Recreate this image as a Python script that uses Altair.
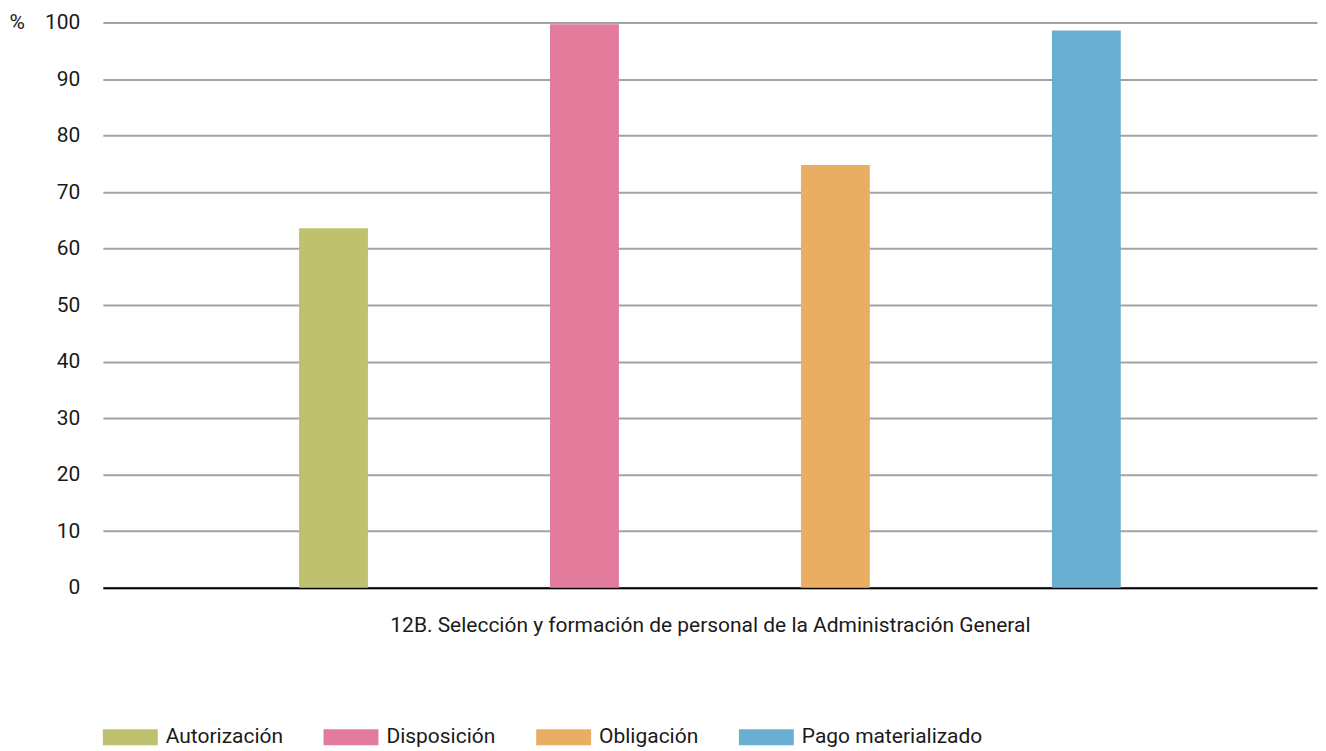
import altair as alt
import pandas as pd

series = ["Autorización", "Disposición", "Obligación", "Pago materializado"]
values = [63.6, 99.7, 74.8, 98.6]
colors = ["#bec26e", "#e27b9c", "#e9ae63", "#6aaed2"]
category = "12B. Selección y formación de personal de la Administración General"
y_ticks = [0, 10, 20, 30, 40, 50, 60, 70, 80, 90, 100]

df = pd.DataFrame({"Serie": series, "Valor": values, "Categoria": category})

FONT = "Roboto"
FS = 21

chart = alt.Chart(df).mark_bar().encode(
    x=alt.X("Serie:N", sort=series,
            scale=alt.Scale(paddingInner=0.7256, paddingOuter=0.782),
            axis=alt.Axis(labels=False, ticks=False, title=category,
                          domainColor="#000000", domainWidth=2,
                          titleFont=FONT, titleFontSize=FS, titleFontWeight="normal",
                          titleColor="#1a1a1a", titlePadding=27)),
    y=alt.Y("Valor:Q",
            scale=alt.Scale(domain=[0, 100], nice=False),
            axis=alt.Axis(values=y_ticks, title="%", titleAngle=0, titleAlign="left",
                          titleBaseline="middle", titleX=-94, titleY=0,
                          titleFont=FONT, titleFontSize=FS, titleFontWeight="normal",
                          titleColor="#1a1a1a",
                          labelFont=FONT, labelFontSize=FS, labelColor="#1a1a1a",
                          labelPadding=23, ticks=False, domain=False,
                          gridColor="#a3a3a3", gridWidth=2)),
    color=alt.Color("Serie:N", sort=series,
                    scale=alt.Scale(domain=series, range=colors),
                    legend=alt.Legend(title=None, orient="none", legendX=0, legendY=688,
                                      direction="horizontal", columns=4,
                                      symbolType="M-1,-0.29L1,-0.29L1,0.29L-1,0.29Z",
                                      symbolSize=3025, symbolStrokeWidth=0,
                                      labelFont=FONT, labelFontSize=FS, labelColor="#1a1a1a",
                                      labelLimit=0,
                                      labelOffset=8, columnPadding=40)),
).properties(
    width=1216, height=566,
    autosize=alt.AutoSizeParams(type="none"),
    padding={"left": 95, "top": 14, "right": 1, "bottom": 163},
).configure_view(stroke=None)

chart.save("out.html", embed_options={"renderer": "svg", "actions": False})
